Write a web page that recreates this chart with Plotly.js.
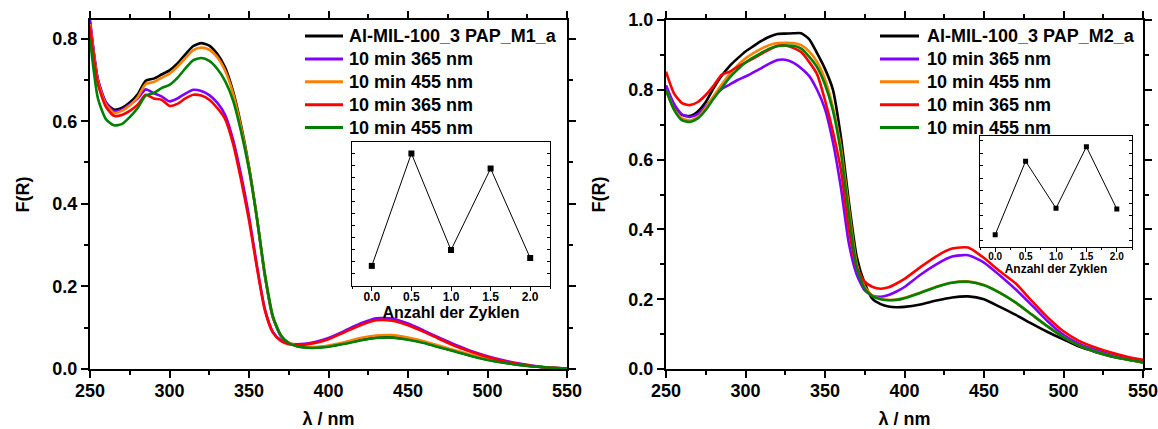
<!DOCTYPE html>
<html><head><meta charset="utf-8">
<script src="https://cdn.plot.ly/plotly-3.0.1.min.js"></script>
<style>html,body{margin:0;padding:0;background:#fff}#chart{width:1158px;height:429px}</style>
</head><body><div id="chart"></div>
<script>
// ---------- data ----------
const wavelength = [250,255,260,265,270,275,280,285,290,295,300,305,310,315,320,325,330,335,340,345,350,355,360,365,370,375,380,385,390,395,400,410,420,430,440,450,460,470,480,490,500,510,520,530,540,550];

const leftNames  = ['Al-MIL-100_3 PAP_M1_a','10 min 365 nm','10 min 455 nm','10 min 365 nm','10 min 455 nm'];
const rightNames = ['Al-MIL-100_3 PAP_M2_a','10 min 365 nm','10 min 455 nm','10 min 365 nm','10 min 455 nm'];
const seriesColors = ['#000000','#8000ff','#ff8000','#ff0000','#008000'];

const leftBlack  = [0.84,0.70,0.645,0.628,0.632,0.645,0.665,0.698,0.703,0.713,0.723,0.74,0.762,0.782,0.789,0.783,0.763,0.73,0.672,0.59,0.49,0.365,0.225,0.125,0.08,0.063,0.056,0.053,0.052,0.053,0.055,0.062,0.07,0.076,0.077,0.072,0.064,0.053,0.043,0.032,0.023,0.016,0.01,0.006,0.003,0.0015];
const leftViolet = [0.845,0.70,0.645,0.624,0.628,0.64,0.655,0.677,0.668,0.66,0.648,0.655,0.667,0.676,0.673,0.663,0.645,0.615,0.555,0.47,0.37,0.25,0.145,0.09,0.07,0.062,0.06,0.061,0.064,0.069,0.075,0.092,0.11,0.123,0.122,0.11,0.093,0.075,0.058,0.043,0.031,0.021,0.013,0.007,0.003,0.0015];
const leftOrange = [0.835,0.695,0.64,0.62,0.625,0.638,0.658,0.69,0.695,0.705,0.715,0.732,0.753,0.772,0.778,0.773,0.755,0.722,0.667,0.585,0.487,0.365,0.228,0.127,0.082,0.064,0.057,0.054,0.053,0.054,0.057,0.065,0.075,0.081,0.082,0.076,0.067,0.056,0.045,0.034,0.024,0.017,0.011,0.006,0.003,0.0015];
const leftRed    = [0.83,0.69,0.635,0.613,0.615,0.625,0.64,0.664,0.655,0.652,0.637,0.642,0.655,0.664,0.662,0.652,0.632,0.605,0.545,0.458,0.36,0.245,0.142,0.088,0.068,0.06,0.058,0.059,0.062,0.066,0.072,0.089,0.106,0.118,0.117,0.106,0.09,0.072,0.055,0.041,0.029,0.019,0.012,0.006,0.003,0.0015];
const leftGreen  = [0.80,0.655,0.605,0.59,0.593,0.61,0.632,0.662,0.668,0.68,0.688,0.705,0.728,0.748,0.753,0.746,0.727,0.697,0.65,0.575,0.483,0.365,0.23,0.128,0.082,0.063,0.055,0.052,0.051,0.052,0.054,0.061,0.069,0.075,0.076,0.071,0.063,0.052,0.042,0.031,0.022,0.015,0.0097,0.006,0.003,0.0015];

const rightBlack  = [0.80,0.75,0.728,0.725,0.738,0.765,0.805,0.84,0.868,0.89,0.91,0.925,0.94,0.952,0.96,0.961,0.962,0.962,0.945,0.905,0.86,0.80,0.665,0.48,0.32,0.245,0.20,0.186,0.179,0.177,0.178,0.185,0.196,0.205,0.208,0.20,0.178,0.155,0.13,0.106,0.085,0.064,0.049,0.036,0.027,0.019];
const rightViolet = [0.813,0.76,0.73,0.722,0.73,0.752,0.78,0.802,0.815,0.828,0.838,0.85,0.862,0.875,0.885,0.886,0.878,0.862,0.84,0.80,0.745,0.65,0.52,0.36,0.27,0.225,0.21,0.207,0.212,0.222,0.235,0.27,0.30,0.322,0.326,0.305,0.268,0.228,0.183,0.137,0.098,0.072,0.055,0.041,0.03,0.021];
const rightOrange = [0.80,0.745,0.718,0.712,0.722,0.748,0.782,0.815,0.845,0.87,0.89,0.905,0.918,0.928,0.934,0.935,0.934,0.928,0.91,0.88,0.83,0.75,0.635,0.46,0.30,0.235,0.21,0.201,0.198,0.199,0.204,0.219,0.236,0.248,0.251,0.241,0.219,0.19,0.156,0.122,0.091,0.067,0.05,0.037,0.027,0.019];
const rightRed    = [0.852,0.79,0.762,0.756,0.765,0.785,0.812,0.843,0.852,0.866,0.878,0.89,0.903,0.915,0.926,0.927,0.92,0.908,0.88,0.845,0.77,0.68,0.57,0.40,0.29,0.25,0.235,0.23,0.234,0.245,0.258,0.292,0.323,0.345,0.348,0.318,0.28,0.245,0.195,0.148,0.108,0.08,0.062,0.047,0.035,0.026];
const rightGreen  = [0.80,0.743,0.713,0.708,0.718,0.742,0.775,0.805,0.835,0.858,0.878,0.893,0.906,0.918,0.925,0.927,0.926,0.918,0.895,0.865,0.815,0.74,0.62,0.445,0.29,0.23,0.208,0.2,0.197,0.198,0.203,0.218,0.235,0.247,0.25,0.24,0.218,0.19,0.156,0.122,0.091,0.067,0.05,0.037,0.027,0.019];

const cycles = [0.0,0.5,1.0,1.5,2.0];
const insetLeftValues  = [0.078,0.125,0.0846,0.1187,0.0813];
const insetRightValues = [0.21,0.327,0.252,0.35,0.251];

// ---------- layout helpers ----------
const W = 1158, H = 429;
const FONT = 'Liberation Sans, Arial, Helvetica, sans-serif';
const px = v => v / W;
const py = v => 1 - v / H;

const leftSeries  = [leftBlack, leftViolet, leftOrange, leftRed, leftGreen];
const rightSeries = [rightBlack, rightViolet, rightOrange, rightRed, rightGreen];

const traces = [];
leftSeries.forEach((ys, i) => traces.push({
  x: wavelength, y: ys, type: 'scatter', mode: 'lines', name: leftNames[i],
  xaxis: 'x', yaxis: 'y', showlegend: false,
  line: {color: seriesColors[i], width: 2.6, shape: 'spline', smoothing: 0.6}
}));
rightSeries.forEach((ys, i) => traces.push({
  x: wavelength, y: ys, type: 'scatter', mode: 'lines', name: rightNames[i],
  xaxis: 'x2', yaxis: 'y2', showlegend: false,
  line: {color: seriesColors[i], width: 2.6, shape: 'spline', smoothing: 0.6}
}));
traces.push({x: cycles, y: insetLeftValues, type: 'scatter', mode: 'lines+markers', xaxis: 'x3', yaxis: 'y3',
  showlegend: false, line: {color: '#000', width: 1}, marker: {symbol: 'square', size: 6, color: '#000'}});
traces.push({x: cycles, y: insetRightValues, type: 'scatter', mode: 'lines+markers', xaxis: 'x4', yaxis: 'y4',
  showlegend: false, line: {color: '#000', width: 1}, marker: {symbol: 'square', size: 5, color: '#000'}});

function mainX(domain, anchor) {
  return {domain, anchor, range: [250, 550], tick0: 250, dtick: 50,
    ticks: 'outside', ticklen: 7, tickwidth: 2, tickcolor: '#000', ticklabeloverflow: 'allow',
    ticklabelstandoff: -3,
    linewidth: 2, linecolor: '#000', mirror: 'ticks', showgrid: false, zeroline: false,
    minor: {dtick: 25, ticks: 'outside', ticklen: 4, tickwidth: 2, tickcolor: '#000', showgrid: false},
    tickfont: {family: FONT, size: 18, weight: 'bold', color: '#000'},
    title: {text: 'λ / nm', font: {family: FONT, size: 18, weight: 'bold', color: '#000'}, standoff: 16}};
}
function mainY(domain, anchor, top) {
  return {domain, anchor, range: [0, top], tick0: 0, dtick: 0.2, tickformat: '.1f',
    ticks: 'outside', ticklen: 7, tickwidth: 2, tickcolor: '#000',
    linewidth: 2, linecolor: '#000', mirror: 'ticks', showgrid: false, zeroline: false,
    minor: {dtick: 0.1, ticks: 'outside', ticklen: 4, tickwidth: 2, tickcolor: '#000', showgrid: false},
    tickfont: {family: FONT, size: 18, weight: 'bold', color: '#000'},
    title: {text: 'F(R)', font: {family: FONT, size: 18, weight: 'bold', color: '#000'}, standoff: 18}};
}
function insetX(domain, anchor, tf, titleSize) {
  return {domain, anchor, range: [-0.25, 2.25], tick0: 0, dtick: 0.5, tickformat: '.1f',
    ticks: 'outside', ticklen: 4, tickwidth: 1, tickcolor: '#000', ticklabelstandoff: -4,
    linewidth: 1, linecolor: '#000', mirror: true, showgrid: false, zeroline: false,
    minor: {dtick: 0.25, ticks: 'outside', ticklen: 2, tickwidth: 1, tickcolor: '#000', showgrid: false},
    tickfont: {family: FONT, size: tf, weight: 'bold', color: '#000'},
    title: {text: 'Anzahl der Zyklen', font: {family: FONT, size: titleSize, weight: 'bold', color: '#000'}, standoff: 0}};
}
function insetY(domain, anchor, range, dt) {
  return {domain, anchor, range, tick0: 0, dtick: dt, ticks: 'inside', ticklen: 3, tickwidth: 1, tickcolor: '#000',
    showticklabels: false, linewidth: 1, linecolor: '#000', mirror: 'ticks', showgrid: false, zeroline: false};
}

const shapes = [], annotations = [];
function addLegend(names, lineX0, lineX1, textX, y0, dy) {
  names.forEach((n, i) => {
    const yy = py(y0 + dy * i);
    shapes.push({type: 'line', xref: 'paper', yref: 'paper', x0: px(lineX0), x1: px(lineX1), y0: yy, y1: yy,
      line: {color: seriesColors[i], width: 3}});
    annotations.push({xref: 'paper', yref: 'paper', x: px(textX), y: yy, xanchor: 'left', yanchor: 'middle',
      showarrow: false, text: n, font: {family: FONT, size: 18, weight: 'bold', color: '#000'}});
  });
}
addLegend(leftNames, 305, 343, 347, 36, 22.9);
addLegend(rightNames, 880, 919, 925, 36, 22.9);

const layout = {
  width: W, height: H, margin: {l: 0, r: 0, t: 0, b: 0},
  paper_bgcolor: '#fff', plot_bgcolor: 'rgba(0,0,0,0)', showlegend: false,
  font: {family: FONT, color: '#000'},
  xaxis: mainX([px(90), px(567)], 'y'),
  yaxis: mainY([py(369), py(20)], 'x', 0.845),
  xaxis2: mainX([px(666), px(1143)], 'y2'),
  yaxis2: mainY([py(369), py(20)], 'x2', 1.0),
  xaxis3: insetX([px(352), px(550)], 'y3', 12, 16),
  yaxis3: insetY([py(286), py(141.7)], 'x3', [0.0696, 0.1299], 0.005),
  xaxis4: insetX([px(980), px(1132)], 'y4', 10, 12),
  yaxis4: insetY([py(247.3), py(135.7)], 'x4', [0.1899, 0.3676], 0.02),
  shapes, annotations
};

Plotly.newPlot('chart', traces, layout, {displayModeBar: false, staticPlot: true});
</script></body></html>
